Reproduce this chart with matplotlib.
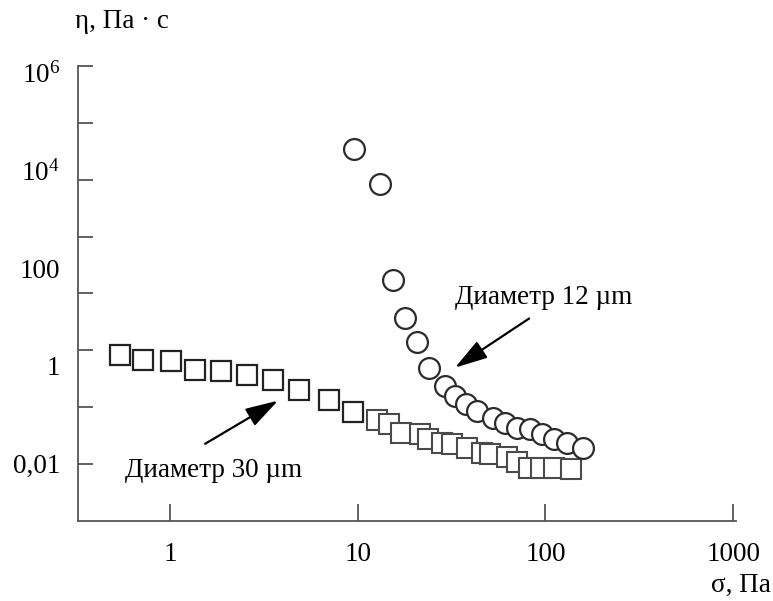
import numpy as np
import matplotlib
matplotlib.use("Agg")
import matplotlib.pyplot as plt
from matplotlib.ticker import FixedLocator, NullFormatter

plt.rcParams['font.family'] = ['Liberation Serif', 'DejaVu Serif']
plt.rcParams['mathtext.fontset'] = 'stix'

# particles 30 um
sigma_30 = [0.54, 0.72, 1.01, 1.36, 1.87, 2.57, 3.54, 4.87, 7.03, 9.44,
            12.7, 14.7, 17.0, 21.5, 23.7, 28.1, 31.8, 38.2, 45.9, 50.7,
            62.4, 70.6, 81.8, 94.8, 111, 137]
eta_30 = [1.70, 1.34, 1.28, 0.836, 0.797, 0.660, 0.521, 0.325, 0.203, 0.115,
          0.079, 0.0654, 0.0428, 0.0408, 0.0322, 0.0267, 0.0255, 0.0211, 0.0166, 0.0159,
          0.0138, 0.0109, 0.0082, 0.0082, 0.0082, 0.0078]

# particles 12 um
sigma_12 = [9.55, 13.1, 15.4, 17.9, 20.7, 24.0, 29.2, 33.0, 37.8, 43.2,
            52.6, 60.9, 70.6, 82.8, 95.9, 111, 130, 159]
eta_12 = [26900, 5160, 55.7, 9.72, 3.13, 0.919, 0.393, 0.245, 0.168, 0.121,
          0.0868, 0.0686, 0.0542, 0.0516, 0.0408, 0.0322, 0.0267, 0.0211]

x_ticks = [1, 10, 100, 1000]
x_labels = ['1', '10', '100', '1000']
y_ticks = [1e6, 1e4, 1e2, 1, 1e-2]
y_labels = [r'$\mathregular{10^6}$', r'$\mathregular{10^4}$', '100', '1', '0,01']

fs = 19.5
fig = plt.figure(figsize=(7.73, 6.01), dpi=100)
ax = fig.add_axes([0.1009, 0.1332, 0.8512, 0.7569])

ax.set_xscale('log')
ax.set_yscale('log')
ax.set_xlim(10**-0.49, 10**3.015)
ax.set_ylim(10**-3.172, 10**6.131)

# first points darker, the dense tail a bit greyer
ax.plot(sigma_30[:10], eta_30[:10], ls='none', marker='s', ms=14.5, mfc='white',
        mec='#222222', mew=1.6)
ax.plot(sigma_30[10:], eta_30[10:], ls='none', marker='s', ms=14.5, mfc='white',
        mec='#4a4a4a', mew=1.5)
ax.plot(sigma_12, eta_12, ls='none', marker='o', ms=15, mfc='white',
        mec='#2b2b2b', mew=1.6)

for s in ['top', 'right']:
    ax.spines[s].set_visible(False)
for s in ['left', 'bottom']:
    ax.spines[s].set_color('#555555')
    ax.spines[s].set_linewidth(1.3)

ax.xaxis.set_major_locator(FixedLocator(x_ticks))
ax.set_xticklabels(x_labels)
ax.xaxis.set_minor_locator(FixedLocator([]))
ax.tick_params(axis='x', which='major', direction='in', length=12, width=1.3,
               color='#555555', pad=15, labelsize=fs)

ax.yaxis.set_major_locator(FixedLocator(y_ticks))
ax.set_yticklabels(y_labels)
ax.yaxis.set_minor_locator(FixedLocator(10**np.linspace(6.131, -2.004, 8)))
ax.yaxis.set_minor_formatter(NullFormatter())
ax.tick_params(axis='y', which='major', length=0, pad=13, labelsize=fs)
ax.tick_params(axis='y', which='minor', direction='in', length=11, width=1.3,
               color='#555555')

arrow = dict(arrowstyle='-|>,head_length=1.0,head_width=0.3', mutation_scale=20,
             color='black', lw=1.6, shrinkA=0, shrinkB=0)

# labels on the curves
ax.text(33.0, 25, 'Диаметр 12 µm', fontsize=fs, ha='left', va='center')
ax.annotate('', xy=(33.0, 0.92), xytext=(81.8, 9.27), arrowprops=arrow)
ax.text(0.576, 0.0071, 'Диаметр 30 µm', fontsize=fs, ha='left', va='center')
ax.annotate('', xy=(3.76, 0.194), xytext=(1.54, 0.0255), arrowprops=arrow)

fig.text(75 / 773, 1 - 22 / 601, 'η, Па · с', fontsize=fs, ha='left', va='center')
fig.text(771 / 773, 1 - 585 / 601, 'σ, Па', fontsize=fs, ha='right', va='center')

fig.savefig('out.png', dpi=100)
